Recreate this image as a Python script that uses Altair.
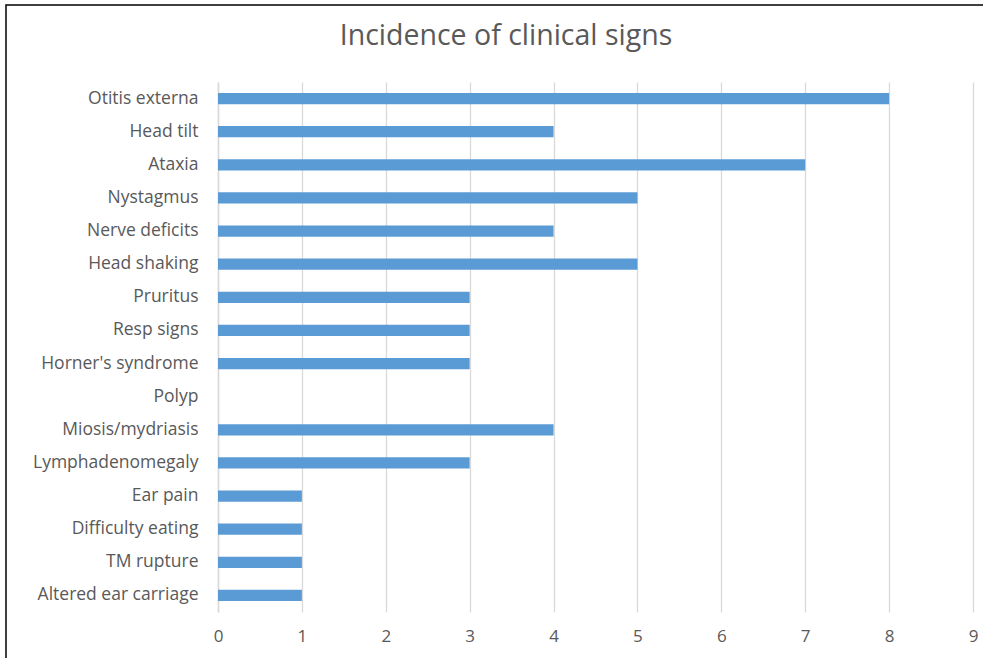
import altair as alt
import pandas as pd

signs = ["Otitis externa", "Head tilt", "Ataxia", "Nystagmus", "Nerve deficits",
         "Head shaking", "Pruritus", "Resp signs", "Horner's syndrome", "Polyp",
         "Miosis/mydriasis", "Lymphadenomegaly", "Ear pain", "Difficulty eating",
         "TM rupture", "Altered ear carriage"]
counts = [8, 4, 7, 5, 4, 5, 3, 3, 3, 0, 4, 3, 1, 1, 1, 1]
x_ticks = [0, 1, 2, 3, 4, 5, 6, 7, 8, 9]
title_text = ["Incidence of clinical signs"]

df = pd.DataFrame({"sign": signs, "count": counts})
tdf = pd.DataFrame({"t": title_text})

W, H = 755, 530
FONT = "Open Sans"
GREY = "#595959"

bars = alt.Chart(df).mark_bar(color="#5B9BD5").encode(
    x=alt.X("count:Q", scale=alt.Scale(domain=[0, 9], nice=False),
            axis=alt.Axis(values=x_ticks, title=None, grid=True, gridColor="#d9d9d9",
                          gridWidth=1.3, domain=False, ticks=False, labelFontSize=17,
                          labelColor=GREY, labelFont=FONT, labelPadding=16,
                          labelFlush=False, format="d")),
    y=alt.Y("sign:N", sort=signs,
            scale=alt.Scale(paddingInner=0.66, paddingOuter=0.33),
            axis=alt.Axis(title=None, ticks=False, domain=True, domainColor="#d9d9d9",
                          domainWidth=1.5, labelFontSize=17.5, labelColor=GREY,
                          labelFont=FONT, labelPadding=20, grid=False)),
)

title = alt.Chart(tdf).mark_text(font=FONT, fontSize=28.5, color=GREY, align="center",
                                 baseline="alphabetic").encode(
    text="t:N", x=alt.value(288), y=alt.value(-37)
)

border = alt.Chart(tdf).mark_rect(fill=None, stroke="black", strokeWidth=1.5).encode(
    x=alt.value(-212), x2=alt.value(W + 60), y=alt.value(-77), y2=alt.value(H + 100)
)

chart = alt.layer(bars, title, border).properties(
    width=W, height=H,
    autosize=alt.AutoSizeParams(type="none"),
    padding={"left": 218, "top": 82, "right": 10, "bottom": 46},
    background="white",
).configure_view(stroke=None)

chart.save("out.html", embed_options={"renderer": "svg", "actions": False})
